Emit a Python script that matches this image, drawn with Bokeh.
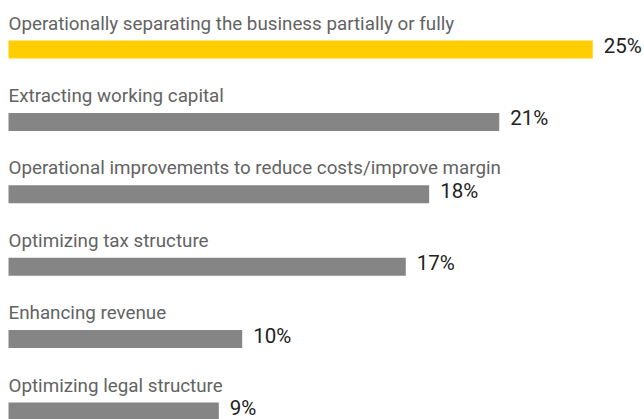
from bokeh.plotting import figure
from bokeh.models import Range1d, ColumnDataSource
from bokeh.core.properties import value
from bokeh.embed import file_html
from bokeh.resources import INLINE

categories = [
    "Operationally separating the business partially or fully",
    "Extracting working capital",
    "Operational improvements to reduce costs/improve margin",
    "Optimizing tax structure",
    "Enhancing revenue",
    "Optimizing legal structure",
]
values = [25, 21, 18, 17, 10, 9]
labels = [f"{v}%" for v in values]
colors = ["#FFCD00"] + ["#858585"] * 5

W, H = 644, 419
left_px = 8
px_per_pct = 23.37
row_px = 72.4
first_center_px = 49

src = ColumnDataSource(dict(
    idx=list(range(len(categories))),
    cat=categories,
    val=values,
    lab=labels,
    col=colors,
))

p = figure(width=W, height=H, output_backend="svg", toolbar_location=None,
           x_range=Range1d(-left_px / px_per_pct, (W - left_px) / px_per_pct),
           y_range=Range1d((H - first_center_px) / row_px, -first_center_px / row_px),
           x_axis_type=None, y_axis_type=None, min_border=0)
p.grid.visible = False
p.outline_line_color = None
p.background_fill_color = "white"
p.border_fill_color = "white"

p.hbar(y="idx", left=0, right="val", height=18 / row_px, fill_color="col",
       line_color=None, source=src)

p.text(x=0, y="idx", text="cat", source=src, text_baseline="alphabetic",
       y_offset=-26, text_font=value("Roboto"), text_font_size="18.8px",
       text_color="#636363")

p.text(x="val", y="idx", text="lab", source=src, text_baseline="alphabetic",
       x_offset=11, y_offset=-3.5, text_font=value("Roboto"), text_font_size="20.5px",
       text_color="#222222")

open("out.html", "w").write(file_html(p, INLINE))
